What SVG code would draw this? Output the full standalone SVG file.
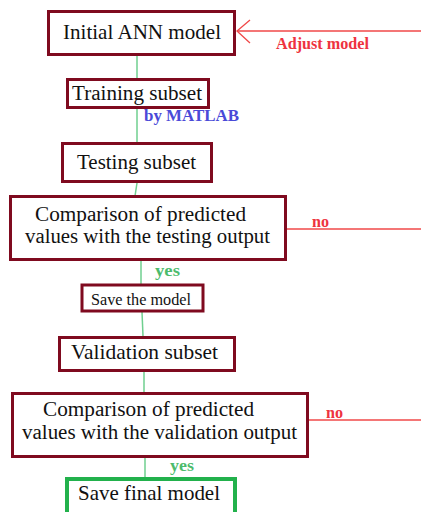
<svg xmlns="http://www.w3.org/2000/svg" width="421" height="512" viewBox="0 0 421 512">
<style>
.box{fill:#fff;stroke:#7f0a1f;stroke-width:3}
.final{fill:#fff;stroke:#22b14c;stroke-width:4}
.g{stroke:#6fcf8f;stroke-width:1.5;fill:none}
.r{stroke:#f04848;stroke-width:1.3;fill:none}
</style>
<g id="connectors">
<line class="g" x1="137" y1="56" x2="137" y2="78"/>
<line class="g" x1="137" y1="109" x2="137" y2="142"/>
<line class="g" x1="137" y1="183" x2="135" y2="196"/>
<line class="g" x1="141" y1="260" x2="141" y2="284"/>
<line class="g" x1="142" y1="312" x2="143" y2="336"/>
<line class="g" x1="144" y1="372" x2="144" y2="392"/>
<line class="g" x1="145" y1="458" x2="145" y2="477"/>
<line class="r" x1="237" y1="31" x2="421" y2="31"/>
<polyline class="r" points="250,20 237,31 250,43"/>
<line class="r" x1="287" y1="229" x2="421" y2="229"/>
<line class="r" x1="309" y1="420" x2="421" y2="420"/>
<g font-family="'Liberation Serif', 'Times New Roman', serif" font-weight="bold">
<text x="276" y="49" font-size="16" fill="#ee3340" textLength="93" lengthAdjust="spacingAndGlyphs">Adjust model</text>
<text x="144" y="121" font-size="16" fill="#4a4ad8" textLength="95" lengthAdjust="spacingAndGlyphs">by MATLAB</text>
<text x="312" y="227" font-size="16" fill="#ee3340" textLength="17" lengthAdjust="spacingAndGlyphs">no</text>
<text x="155" y="276" font-size="17" fill="#4cbb6c" textLength="25" lengthAdjust="spacingAndGlyphs">yes</text>
<text x="326" y="418" font-size="16" fill="#ee3340" textLength="17" lengthAdjust="spacingAndGlyphs">no</text>
<text x="170" y="471" font-size="17" fill="#4cbb6c" textLength="24" lengthAdjust="spacingAndGlyphs">yes</text>
</g>
</g>
<g font-family="'Liberation Serif', 'Times New Roman', serif" fill="#111">
<g id="initial">
<rect class="box" x="48.5" y="11.5" width="186" height="43"/>
<text x="63" y="39" font-size="21" textLength="158" lengthAdjust="spacingAndGlyphs">Initial ANN model</text>
</g>
<g id="training">
<rect class="box" x="67.5" y="79.5" width="141" height="28"/>
<text x="72" y="100" font-size="20" textLength="130" lengthAdjust="spacingAndGlyphs">Training subset</text>
</g>
<g id="testing">
<rect class="box" x="62.5" y="143.5" width="149" height="38"/>
<text x="77" y="169" font-size="20" textLength="119" lengthAdjust="spacingAndGlyphs">Testing subset</text>
</g>
<g id="compare1">
<rect class="box" x="10.5" y="196.5" width="275" height="63"/>
<text x="35" y="221" font-size="20" textLength="211" lengthAdjust="spacingAndGlyphs">Comparison of predicted</text>
<text x="25" y="243" font-size="20" textLength="245" lengthAdjust="spacingAndGlyphs">values with the testing output</text>
</g>
<g id="save">
<rect class="box" x="82" y="285" width="121" height="26" stroke-width="2.5"/>
<text x="91" y="305" font-size="16" textLength="100" lengthAdjust="spacingAndGlyphs">Save the model</text>
</g>
<g id="validation">
<rect class="box" x="59.5" y="337.5" width="175" height="33"/>
<text x="71" y="359" font-size="21" textLength="147" lengthAdjust="spacingAndGlyphs">Validation subset</text>
</g>
<g id="compare2">
<rect class="box" x="12.5" y="393.5" width="295" height="63"/>
<text x="43" y="416" font-size="20" textLength="211" lengthAdjust="spacingAndGlyphs">Comparison of predicted</text>
<text x="22" y="439" font-size="20" textLength="275" lengthAdjust="spacingAndGlyphs">values with the validation output</text>
</g>
<g id="final">
<rect class="final" x="67" y="479" width="168" height="40"/>
<text x="78" y="500" font-size="21" textLength="142" lengthAdjust="spacingAndGlyphs">Save final model</text>
</g>
</g>
</svg>
